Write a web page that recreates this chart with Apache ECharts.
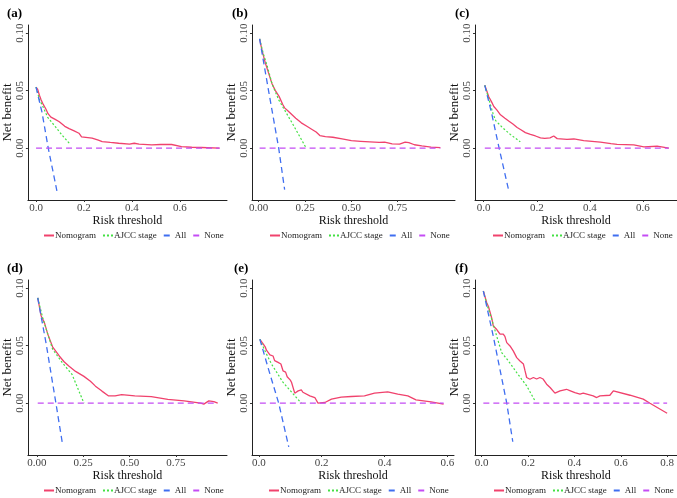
<!DOCTYPE html>
<html>
    <head>
        <meta charset="UTF-8">
        <title>Decision curves</title>
        <script src="https://cdn.jsdelivr.net/npm/echarts@6/dist/echarts.min.js"></script>
        <style>
            html, body { margin: 0; padding: 0; background: #fff; }
            #chart { width: 677px; height: 498px; }
        </style>
    </head>
    <body>
        <div id="chart"></div>
        <script>
            // curve values, [risk threshold, net benefit]
            const seriesNames = ['Nomogram', 'AJCC stage', 'All', 'None'];
            const panelLabels = ['(a)', '(b)', '(c)', '(d)', '(e)', '(f)'];
            const yTicks = [0, 0.05, 0.1];
            const xTicksTenths = [0, 0.2, 0.4, 0.6, 0.8];
            const xTicksQuarters = [0, 0.25, 0.5, 0.75];

            const nomoA = [[0.0,0.053],[0.007,0.051],[0.014,0.046],[0.021,0.042],[0.03,0.038],[0.041,0.034],[0.05,0.030],[0.062,0.027],[0.08,0.025],[0.097,0.023],[0.12,0.019],[0.138,0.017],[0.159,0.015],[0.179,0.013],[0.185,0.0125],[0.19,0.0098],[0.234,0.0088],[0.26,0.007],[0.276,0.0057],[0.31,0.005],[0.345,0.0043],[0.39,0.0035],[0.41,0.0043],[0.43,0.0035],[0.483,0.0029],[0.52,0.0032],[0.566,0.0032],[0.607,0.0014],[0.65,0.0008],[0.69,0.0006],[0.766,0.0]];
            const ajccA = [[0.0,0.053],[0.015,0.042],[0.028,0.0365],[0.048,0.027],[0.083,0.018],[0.11,0.011],[0.14,0.004]];
            const allA = [[0.0,0.053],[0.025,0.031],[0.051,0.0],[0.087,-0.037]];
            const noneA = [[0.0,0],[0.766,0]];

            const nomoB = [[0.005,0.095],[0.018,0.085],[0.036,0.074],[0.054,0.065],[0.072,0.056],[0.09,0.050],[0.11,0.045],[0.13,0.038],[0.14,0.035],[0.16,0.032],[0.18,0.029],[0.2,0.026],[0.23,0.022],[0.26,0.019],[0.29,0.016],[0.31,0.014],[0.33,0.011],[0.36,0.010],[0.4,0.0095],[0.45,0.008],[0.5,0.0065],[0.55,0.006],[0.6,0.0055],[0.65,0.005],[0.68,0.0052],[0.72,0.0038],[0.76,0.0035],[0.79,0.0052],[0.81,0.0048],[0.84,0.003],[0.88,0.002],[0.93,0.001],[0.98,0.0005]];
            const ajccB = [[0.005,0.095],[0.025,0.082],[0.045,0.072],[0.072,0.056],[0.108,0.042],[0.18,0.022],[0.257,0.0]];
            const allB = [[0.005,0.095],[0.05,0.053],[0.108,0.0],[0.14,-0.036]];
            const noneB = [[0.005,0],[0.98,0]];

            const nomoC = [[0.004,0.0546],[0.019,0.0447],[0.03,0.04],[0.038,0.0362],[0.05,0.033],[0.063,0.029],[0.08,0.026],[0.094,0.0236],[0.11,0.021],[0.126,0.018],[0.14,0.016],[0.157,0.0135],[0.176,0.012],[0.18,0.0105],[0.195,0.0106],[0.214,0.009],[0.23,0.0085],[0.25,0.009],[0.264,0.0106],[0.277,0.0083],[0.314,0.0077],[0.34,0.008],[0.377,0.0066],[0.44,0.0052],[0.48,0.004],[0.503,0.0034],[0.566,0.0029],[0.604,0.0012],[0.654,0.0017],[0.698,0.0]];
            const ajccC = [[0.004,0.0546],[0.02,0.042],[0.035,0.03],[0.045,0.024],[0.07,0.018],[0.1,0.012],[0.138,0.0055]];
            const allC = [[0.004,0.0546],[0.03,0.03],[0.058,0.0],[0.094,-0.0366]];
            const noneC = [[0.004,0],[0.698,0]];

            const nomoD = [[0.005,0.0915],[0.023,0.076],[0.041,0.070],[0.059,0.060],[0.085,0.049],[0.121,0.041],[0.147,0.036],[0.174,0.032],[0.209,0.0276],[0.254,0.0233],[0.289,0.019],[0.316,0.0148],[0.351,0.0105],[0.387,0.0063],[0.422,0.0063],[0.457,0.0074],[0.528,0.0063],[0.617,0.0057],[0.706,0.0034],[0.794,0.002],[0.883,0.0],[0.9,-0.0008],[0.927,0.002],[0.954,0.0014],[0.975,0.0]];
            const ajccD = [[0.005,0.0915],[0.032,0.074],[0.067,0.056],[0.085,0.047],[0.138,0.035],[0.19,0.025],[0.254,0.0]];
            const allD = [[0.005,0.0915],[0.05,0.052],[0.103,0.0],[0.138,-0.035]];
            const noneD = [[0.005,0],[0.975,0]];

            const nomoE = [[0.003,0.0555],[0.014,0.0513],[0.02,0.049],[0.024,0.046],[0.03,0.045],[0.035,0.042],[0.045,0.041],[0.05,0.037],[0.061,0.0354],[0.07,0.034],[0.077,0.028],[0.085,0.027],[0.09,0.023],[0.1,0.020],[0.104,0.018],[0.11,0.0165],[0.114,0.0087],[0.125,0.0107],[0.135,0.0116],[0.14,0.0095],[0.146,0.0093],[0.162,0.0064],[0.178,0.0049],[0.188,0.0],[0.21,0.0006],[0.231,0.0035],[0.262,0.0052],[0.294,0.0058],[0.336,0.0064],[0.368,0.0087],[0.41,0.0099],[0.442,0.0078],[0.474,0.0064],[0.5,0.0029],[0.548,0.0012],[0.588,-0.0009]];
            const ajccE = [[0.003,0.0555],[0.02,0.045],[0.04,0.034],[0.077,0.018],[0.135,0.0]];
            const allE = [[0.003,0.0555],[0.03,0.03],[0.063,0.0],[0.095,-0.038]];
            const noneE = [[0.003,0],[0.588,0]];

            const nomoF = [[0.007,0.0974],[0.022,0.087],[0.029,0.084],[0.036,0.083],[0.043,0.074],[0.05,0.067],[0.065,0.064],[0.079,0.06],[0.093,0.06],[0.1,0.058],[0.108,0.0526],[0.122,0.0497],[0.136,0.0454],[0.151,0.0396],[0.165,0.0367],[0.18,0.034],[0.187,0.028],[0.194,0.0223],[0.208,0.0208],[0.223,0.0223],[0.237,0.021],[0.251,0.0223],[0.265,0.021],[0.28,0.0165],[0.295,0.0136],[0.316,0.0087],[0.338,0.0107],[0.366,0.0121],[0.38,0.011],[0.402,0.0092],[0.424,0.0078],[0.438,0.0087],[0.481,0.0064],[0.496,0.0049],[0.51,0.0064],[0.553,0.0069],[0.568,0.0107],[0.64,0.0069],[0.697,0.0035],[0.726,0.0],[0.8,-0.0087]];
            const ajccF = [[0.007,0.0974],[0.022,0.086],[0.043,0.073],[0.065,0.058],[0.086,0.044],[0.115,0.0367],[0.151,0.0266],[0.194,0.015],[0.23,0.002]];
            const allF = [[0.007,0.0974],[0.05,0.058],[0.108,0.0],[0.134,-0.0335]];
            const noneF = [[0.007,0],[0.8,0]];

            const panelData = [
                [nomoA, ajccA, allA, noneA],
                [nomoB, ajccB, allB, noneB],
                [nomoC, ajccC, allC, noneC],
                [nomoD, ajccD, allD, noneD],
                [nomoE, ajccE, allE, noneE],
                [nomoF, ajccF, allF, noneF]
            ];
            const xTickSets = [xTicksTenths, xTicksQuarters, xTicksTenths, xTicksQuarters, xTicksTenths, xTicksTenths];

            // layout (px) and axis extents for each panel
            const layout = [
                {left: 25, top: 25, width: 202, xmin: -0.034, xmax: 0.797, legendLeft: 43, labelLeft: 2},
                {left: 252, top: 25, width: 203, xmin: -0.036, xmax: 1.059, legendLeft: 269, labelLeft: 227},
                {left: 475, top: 25, width: 202, xmin: -0.033, xmax: 0.729, legendLeft: 492, labelLeft: 450},
                {left: 25, top: 280, width: 202, xmin: -0.048, xmax: 1.025, legendLeft: 43, labelLeft: 2},
                {left: 252, top: 280, width: 202, xmin: -0.022, xmax: 0.621, legendLeft: 268, labelLeft: 229},
                {left: 475, top: 280, width: 202, xmin: -0.029, xmax: 0.842, legendLeft: 493, labelLeft: 450}
            ];

            const colors = ['#f0426d', '#44e044', '#3f6ef0', '#c44cf4'];
            const lineTypes = ['solid', [2, 2], [6, 4], [6, 4]];
            const lineWidths = [1.3, 1.2, 1.3, 1.3];
            const serif = '"Liberation Serif", "Times New Roman", serif';

            const option = {
                animation: false,
                title: [], grid: [], xAxis: [], yAxis: [], legend: [], series: []
            };

            layout.forEach((p, i) => {
                const ticks = xTickSets[i];
                const digits = ticks === xTicksQuarters ? 2 : 1;
                option.title.push({
                    text: panelLabels[i], left: p.labelLeft, top: p.top - 23,
                    textStyle: {fontFamily: serif, fontWeight: 'bold', fontSize: 13, color: '#000'}
                });
                option.grid.push({left: p.left, top: p.top, width: p.width, height: 175});
                option.xAxis.push({
                    type: 'value', gridIndex: i, min: p.xmin, max: p.xmax,
                    name: 'Risk threshold', nameLocation: 'middle', nameGap: 12,
                    nameTextStyle: {fontFamily: serif, fontSize: 12, color: '#111'},
                    axisLine: {onZero: false, lineStyle: {color: '#222', width: 1}},
                    axisTick: {customValues: ticks, length: 2, lineStyle: {color: '#333'}},
                    axisLabel: {customValues: ticks, margin: 3, fontFamily: serif, fontSize: 11, color: '#444',
                        formatter: v => v.toFixed(digits)},
                    splitLine: {show: false}
                });
                option.yAxis.push({
                    type: 'value', gridIndex: i, min: -0.045, max: 0.107,
                    name: 'Net benefit', nameLocation: 'middle', nameGap: 10,
                    nameTextStyle: {fontFamily: serif, fontSize: 13, color: '#111'},
                    axisLine: {show: true, onZero: false, lineStyle: {color: '#222', width: 1}},
                    axisTick: {show: true, customValues: yTicks, length: 2, lineStyle: {color: '#333'}},
                    axisLabel: {customValues: yTicks, rotate: 90, margin: 2, fontFamily: serif, fontSize: 11, color: '#444',
                        formatter: v => v.toFixed(2)},
                    splitLine: {show: false}
                });
                option.legend.push({
                    data: seriesNames, left: p.legendLeft, top: p.top + 206, width: 184,
                    itemWidth: 10, itemHeight: 6, itemGap: 6, padding: 0,
                    itemStyle: {opacity: 0},
                    textStyle: {fontFamily: serif, fontSize: 9, color: '#222', padding: [0, 0, 0, -4]}
                });
                panelData[i].forEach((pts, k) => {
                    option.series.push({
                        name: seriesNames[k], type: 'line', xAxisIndex: i, yAxisIndex: i,
                        data: pts, symbol: 'none', showSymbol: false, silent: true,
                        itemStyle: {color: colors[k]},
                        lineStyle: {color: colors[k], width: lineWidths[k], type: lineTypes[k]}
                    });
                });
            });

            const chart = echarts.init(document.getElementById('chart'), null, {renderer: 'canvas'});
            chart.setOption(option);
        </script>
    </body>
</html>
